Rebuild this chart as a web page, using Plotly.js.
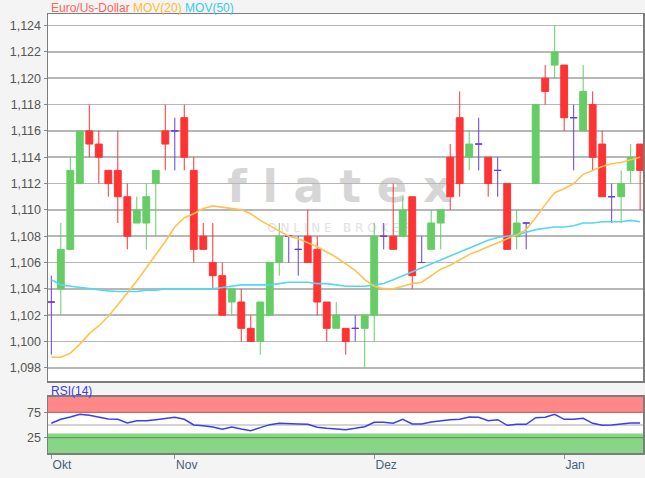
<!DOCTYPE html>
<html><head><meta charset="utf-8">
<script src="https://cdn.plot.ly/plotly-3.0.1.min.js"></script>
<style>html,body{margin:0;padding:0;background:#f4f4f4;}#chart{width:645px;height:478px;}</style>
</head><body><div id="chart"></div>
<script>
// EUR/USD daily candles (mid Oct 2019 .. early Jan 2020)
const openP  = [1.103,1.104,1.107,1.112,1.116,1.115,1.113,1.113,1.111,1.109,1.109,1.112,1.116,1.116,1.117,1.113,1.108,1.106,1.105,1.103,1.103,1.101,1.100,1.102,1.106,1.108,1.107,1.108,1.107,1.103,1.101,1.101,1.101,1.101,1.102,1.108,1.108,1.108,1.111,1.106,1.107,1.109,1.114,1.117,1.114,1.115,1.114,1.113,1.112,1.108,1.109,1.112,1.120,1.121,1.121,1.117,1.116,1.118,1.115,1.111,1.111,1.113,1.115];
const highP  = [1.105,1.109,1.114,1.116,1.118,1.116,1.113,1.116,1.112,1.111,1.112,1.113,1.118,1.117,1.118,1.114,1.109,1.109,1.106,1.104,1.104,1.102,1.103,1.106,1.109,1.108,1.108,1.110,1.108,1.103,1.103,1.101,1.102,1.102,1.109,1.109,1.112,1.111,1.111,1.108,1.110,1.110,1.115,1.119,1.116,1.117,1.114,1.114,1.112,1.110,1.109,1.118,1.121,1.124,1.121,1.118,1.121,1.119,1.116,1.112,1.113,1.115,1.115];
const lowP   = [1.099,1.102,1.107,1.112,1.114,1.112,1.111,1.109,1.107,1.109,1.107,1.108,1.113,1.113,1.113,1.106,1.107,1.104,1.102,1.102,1.100,1.100,1.099,1.102,1.105,1.106,1.105,1.106,1.102,1.100,1.101,1.099,1.100,1.098,1.100,1.107,1.107,1.108,1.104,1.106,1.107,1.107,1.110,1.111,1.113,1.113,1.111,1.111,1.107,1.107,1.107,1.112,1.118,1.120,1.116,1.113,1.116,1.113,1.111,1.109,1.109,1.112,1.110];
const closeP = [1.103,1.107,1.113,1.116,1.115,1.114,1.112,1.111,1.108,1.110,1.111,1.113,1.115,1.116,1.114,1.107,1.107,1.105,1.102,1.104,1.101,1.100,1.103,1.106,1.108,1.108,1.107,1.106,1.103,1.101,1.102,1.100,1.101,1.102,1.108,1.108,1.107,1.110,1.105,1.106,1.109,1.110,1.111,1.112,1.115,1.115,1.112,1.113,1.107,1.109,1.109,1.118,1.119,1.122,1.117,1.117,1.119,1.114,1.111,1.111,1.112,1.114,1.113];
const mov20  = [1.0988,1.0988,1.0991,1.0998,1.1006,1.1012,1.1019,1.1028,1.1037,1.1046,1.1056,1.1066,1.1076,1.1087,1.1094,1.1097,1.1101,1.1103,1.1102,1.1101,1.1100,1.1097,1.1092,1.1088,1.1084,1.1080,1.1078,1.1075,1.1072,1.1068,1.1064,1.1059,1.1054,1.1047,1.1042,1.1040,1.1040,1.1042,1.1044,1.1045,1.1050,1.1055,1.1058,1.1062,1.1066,1.1069,1.1072,1.1075,1.1078,1.1081,1.1085,1.1094,1.1104,1.1113,1.1116,1.1120,1.1127,1.1130,1.1133,1.1135,1.1136,1.1138,1.1140];
const mov50  = [1.1047,1.1043,1.1042,1.1041,1.1040,1.1039,1.10385,1.1038,1.1038,1.1038,1.1039,1.1039,1.1040,1.1040,1.1040,1.1040,1.1040,1.1040,1.1041,1.1042,1.1043,1.1043,1.1043,1.1043,1.1044,1.1045,1.1045,1.1045,1.1044,1.1044,1.1043,1.1042,1.1042,1.1042,1.1043,1.1044,1.1047,1.1050,1.1053,1.1056,1.1059,1.1062,1.1065,1.1068,1.1071,1.1074,1.1077,1.1079,1.1080,1.1081,1.1083,1.1085,1.1086,1.1087,1.1087,1.1088,1.1090,1.1090,1.1091,1.1091,1.1091,1.1092,1.1091];
const rsi14  = [53.3,61.2,65.7,71.0,69.0,65.7,61.8,61.2,53.9,58.5,58.5,60.5,62.5,65.1,61.2,50.0,48.7,46.1,41.5,46.1,42.1,38.8,44.8,50.7,53.3,53.3,52.0,51.3,45.4,43.4,41.5,40.8,43.4,46.7,55.2,55.2,53.3,61.2,52.0,52.0,55.9,58.5,60.5,61.2,65.7,65.1,58.5,60.5,49.3,51.3,51.3,64.4,65.1,71.0,61.2,61.2,63.1,53.3,49.3,50.0,52.0,53.9,53.9];
const tickIdx  = [0, 13, 34, 54];
const tickText = ['Okt', 'Nov', 'Dez', 'Jan'];

const xIdx = openP.map((_, i) => i);
const RED = '#ff3333', GREEN = '#66cc66', PURPLE = '#6a3ddb';

function candles(test, color) {
  const idx = xIdx.filter(i => test(openP[i], closeP[i]));
  return {
    type: 'candlestick', xaxis: 'x2', yaxis: 'y',
    x: idx, open: idx.map(i => openP[i]), high: idx.map(i => highP[i]),
    low: idx.map(i => lowP[i]), close: idx.map(i => closeP[i]),
    increasing: {line: {color: color, width: 1}, fillcolor: color},
    decreasing: {line: {color: color, width: 1}, fillcolor: color},
    whiskerwidth: 0, hoverinfo: 'skip'
  };
}

const traces = [
  {type: 'scatter', mode: 'lines', x: xIdx, y: mov50, xaxis: 'x2', yaxis: 'y',
   line: {color: '#55d6f2', width: 1.6}, hoverinfo: 'skip'},
  {type: 'scatter', mode: 'lines', x: xIdx, y: mov20, xaxis: 'x2', yaxis: 'y',
   line: {color: '#ffc24f', width: 1.6}, hoverinfo: 'skip'},
  candles((o, c) => c > o, GREEN),
  candles((o, c) => c < o, RED),
  candles((o, c) => c === o, PURPLE),
  {type: 'scatter', mode: 'lines', x: xIdx, y: rsi14, xaxis: 'x', yaxis: 'y2',
   line: {color: '#3c3cf0', width: 1.5}, hoverinfo: 'skip'}
];

const frame = '#7d7d7d';
const layout = {
  width: 645, height: 478,
  paper_bgcolor: '#f4f4f4', plot_bgcolor: '#ffffff',
  margin: {l: 48, r: 2, t: 14, b: 25},
  separators: ',.',
  showlegend: false,
  boxgap: 0.28, boxgroupgap: 0,
  font: {family: 'Liberation Sans, Arial, sans-serif', size: 12, color: '#555'},
  xaxis: {
    domain: [0, 1], anchor: 'y2', range: [-0.35, 62.3],
    tickmode: 'array', tickvals: tickIdx, ticktext: tickText,
    ticks: 'outside', ticklen: 4, tickcolor: '#8a97a8', tickwidth: 1,
    ticklabelposition: 'outside right',
    tickfont: {size: 12, color: '#4b5d72'},
    showgrid: false, zeroline: false, showline: true, mirror: true,
    linecolor: frame, linewidth: 1.5, rangeslider: {visible: false}
  },
  xaxis2: {
    matches: 'x', anchor: 'y', showticklabels: false, ticks: '',
    showgrid: false, zeroline: false, showline: true, mirror: true,
    linecolor: frame, linewidth: 1.5, rangeslider: {visible: false}
  },
  yaxis: {
    domain: [0.164, 1], range: [1.097, 1.12488],
    tick0: 1.098, dtick: 0.002, tickformat: '.3f',
    ticks: 'outside', ticklen: 3, tickcolor: '#888',
    tickfont: {size: 12.5, color: '#555'},
    gridcolor: '#b7b7b7', gridwidth: 1.5, zeroline: false,
    showline: true, mirror: true, linecolor: frame, linewidth: 1.5
  },
  yaxis2: {
    domain: [0, 0.1276], range: [-5.1, 105.1],
    tickmode: 'array', tickvals: [25, 75],
    ticks: 'outside', ticklen: 3, tickcolor: '#888',
    tickfont: {size: 12.5, color: '#555'},
    showgrid: false, zeroline: false,
    showline: true, mirror: true, linecolor: frame, linewidth: 1.5
  },
  shapes: [
    {type: 'rect', xref: 'paper', yref: 'y2', x0: 0, x1: 1, y0: 75, y1: 105.1,
     fillcolor: '#ff8787', line: {width: 0}, layer: 'below'},
    {type: 'rect', xref: 'paper', yref: 'y2', x0: 0, x1: 1, y0: -5.1, y1: 33.5,
     fillcolor: '#86d686', line: {width: 0}, layer: 'below'},
    {type: 'line', xref: 'paper', yref: 'y2', x0: 0, x1: 1, y0: 75, y1: 75,
     line: {color: '#c96a6a', width: 1.2}, layer: 'below'},
    {type: 'line', xref: 'paper', yref: 'y2', x0: 0, x1: 1, y0: 25, y1: 25,
     line: {color: '#5f9e5f', width: 1.2}, layer: 'below'},
    {type: 'line', xref: 'paper', yref: 'y2', x0: 0, x1: 1, y0: 50, y1: 50,
     line: {color: '#a8a8a8', width: 1.2}, layer: 'below'},
    {type: 'rect', xref: 'paper', yref: 'paper', x0: 0.25, x1: 0.73, y0: 0.57, y1: 0.66,
     line: {width: 0}, fillcolor: 'rgba(0,0,0,0)', layer: 'below',
     label: {text: 'f l a t e x', textposition: 'middle center',
             font: {family: 'DejaVu Sans, sans-serif', size: 45, weight: 'bold', color: '#d6d6d6'}}},
    {type: 'rect', xref: 'paper', yref: 'paper', x0: 0.25, x1: 0.73, y0: 0.50, y1: 0.53,
     line: {width: 0}, fillcolor: 'rgba(0,0,0,0)', layer: 'below',
     label: {text: 'O N L I N E   B R O K E R', textposition: 'middle center',
             font: {family: 'DejaVu Sans, sans-serif', size: 12, color: '#e2e2e2'}}}
  ],
  annotations: [
    {xref: 'paper', yref: 'paper', x: 0.002, y: 1.0137, xanchor: 'left', yanchor: 'middle',
     showarrow: false, font: {size: 12},
     text: '<span style="color:#ff6655">Euro/Us-Dollar</span> <span style="color:#ffbb33">MOV(20)</span> <span style="color:#33ccee">MOV(50)</span>'},
    {xref: 'paper', yref: 'paper', x: 0.002, y: 0.1412, xanchor: 'left', yanchor: 'middle',
     showarrow: false, font: {size: 12, color: '#3b3bf0'}, text: 'RSI(14)'}
  ]
};

Plotly.newPlot('chart', traces, layout, {displayModeBar: false, staticPlot: true});
</script></body></html>
